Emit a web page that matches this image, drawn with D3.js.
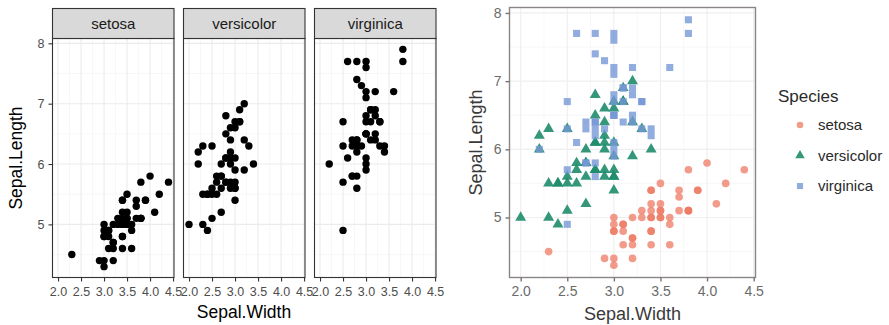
<!DOCTYPE html>
<html>
<head>
<meta charset="utf-8">
<script src="https://cdn.jsdelivr.net/npm/d3@7"></script>
<style>
  body { margin: 0; background: #fff; }
  text { font-family: "Liberation Sans", Arial, sans-serif; }
</style>
</head>
<body>
<svg id="chart" width="889" height="325"></svg>
<script>
// iris: Sepal.Width / Sepal.Length by species
const species = ['setosa', 'versicolor', 'virginica'];
const sepalWidth = [
  3.5,3.0,3.2,3.1,3.6,3.9,3.4,3.4,2.9,3.1,3.7,3.4,3.0,3.0,4.0,4.4,3.9,3.5,3.8,3.8,3.4,3.7,3.6,3.3,3.4,3.0,3.4,3.5,3.4,3.2,3.1,3.4,4.1,4.2,3.1,3.2,3.5,3.6,3.0,3.4,3.5,2.3,3.2,3.5,3.8,3.0,3.8,3.2,3.7,3.3,
  3.2,3.2,3.1,2.3,2.8,2.8,3.3,2.4,2.9,2.7,2.0,3.0,2.2,2.9,2.9,3.1,3.0,2.7,2.2,2.5,3.2,2.8,2.5,2.8,2.9,3.0,2.8,3.0,2.9,2.6,2.4,2.4,2.7,2.7,3.0,3.4,3.1,2.3,3.0,2.5,2.6,3.0,2.6,2.3,2.7,3.0,2.9,2.9,2.5,2.8,
  3.3,2.7,3.0,2.9,3.0,3.0,2.5,2.9,2.5,3.6,3.2,2.7,3.0,2.5,2.8,3.2,3.0,3.8,2.6,2.2,3.2,2.8,2.8,2.7,3.3,3.2,2.8,3.0,2.8,3.0,2.8,3.8,2.8,2.8,2.6,3.0,3.4,3.1,3.0,3.1,3.1,3.1,2.7,3.2,3.3,3.0,2.5,3.0,3.4,3.0
];
const sepalLength = [
  5.1,4.9,4.7,4.6,5.0,5.4,4.6,5.0,4.4,4.9,5.4,4.8,4.8,4.3,5.8,5.7,5.4,5.1,5.7,5.1,5.4,5.1,4.6,5.1,4.8,5.0,5.0,5.2,5.2,4.7,4.8,5.4,5.2,5.5,4.9,5.0,5.5,4.9,4.4,5.1,5.0,4.5,4.4,5.0,5.1,4.8,5.1,4.6,5.3,5.0,
  7.0,6.4,6.9,5.5,6.5,5.7,6.3,4.9,6.6,5.2,5.0,5.9,6.0,6.1,5.6,6.7,5.6,5.8,6.2,5.6,5.9,6.1,6.3,6.1,6.4,6.6,6.8,6.7,6.0,5.7,5.5,5.5,5.8,6.0,5.4,6.0,6.7,6.3,5.6,5.5,5.5,6.1,5.8,5.0,5.6,5.7,5.7,6.2,5.1,5.7,
  6.3,5.8,7.1,6.3,6.5,7.6,4.9,7.3,6.7,7.2,6.5,6.4,6.8,5.7,5.8,6.4,6.5,7.7,7.7,6.0,6.9,5.6,7.7,6.3,6.7,7.2,6.2,6.1,6.4,7.2,7.4,7.9,6.4,6.3,6.1,7.7,6.3,6.4,6.0,6.9,6.7,6.9,5.8,6.8,6.7,6.7,6.3,6.5,6.2,5.9
];
const xTicks = [2.0, 2.5, 3.0, 3.5, 4.0, 4.5];
const yTicks = [5, 6, 7, 8];
const speciesColors = ['#EE7A63', '#1E8C6C', '#7597D6'];

const rows = sepalWidth.map((w, i) => ({ w: w, l: sepalLength[i], sp: species[Math.floor(i / 50)] }));

const svg = d3.select('#chart');
const xDomain = [1.88, 4.52];
const yDomain = [4.12, 8.08];
const xMinor = [2.25, 2.75, 3.25, 3.75, 4.25];
const yMinor = [4.5, 5.5, 6.5, 7.5];
const fontCss = '"Liberation Sans", Arial, sans-serif';

// ---------- left: faceted plot ----------
const panelTop = 38.5, panelBottom = 277.5;
const panelLefts = [52.5, 183.5, 314.5];
const panelW = 121.5;
const y1 = d3.scaleLinear().domain(yDomain).range([panelBottom, panelTop]);

species.forEach((sp, k) => {
  const x0 = panelLefts[k];
  const x = d3.scaleLinear().domain(xDomain).range([x0, x0 + panelW]);
  const g = svg.append('g');

  // grid
  g.selectAll('.xmin').data(xMinor).join('line')
    .attr('x1', d => x(d)).attr('x2', d => x(d))
    .attr('y1', panelTop).attr('y2', panelBottom)
    .attr('stroke', '#F2F2F2').attr('stroke-width', 0.6);
  g.selectAll('.ymin').data(yMinor).join('line')
    .attr('y1', d => y1(d)).attr('y2', d => y1(d))
    .attr('x1', x0).attr('x2', x0 + panelW)
    .attr('stroke', '#F2F2F2').attr('stroke-width', 0.6);
  g.selectAll('.xmaj').data(xTicks).join('line')
    .attr('x1', d => x(d)).attr('x2', d => x(d))
    .attr('y1', panelTop).attr('y2', panelBottom)
    .attr('stroke', '#EBEBEB').attr('stroke-width', 1.1);
  g.selectAll('.ymaj').data(yTicks).join('line')
    .attr('y1', d => y1(d)).attr('y2', d => y1(d))
    .attr('x1', x0).attr('x2', x0 + panelW)
    .attr('stroke', '#EBEBEB').attr('stroke-width', 1.1);

  // points
  g.selectAll('circle').data(rows.filter(r => r.sp === sp)).join('circle')
    .attr('cx', d => x(d.w)).attr('cy', d => y1(d.l))
    .attr('r', 3.7).attr('fill', '#000');

  // border
  g.append('rect').attr('x', x0).attr('y', panelTop)
    .attr('width', panelW).attr('height', panelBottom - panelTop)
    .attr('fill', 'none').attr('stroke', '#333').attr('stroke-width', 1.1);

  // strip
  g.append('rect').attr('x', x0).attr('y', 8.5)
    .attr('width', panelW).attr('height', panelTop - 8.5)
    .attr('fill', '#D9D9D9').attr('stroke', '#333').attr('stroke-width', 1.1);
  g.append('text').attr('x', x0 + panelW / 2).attr('y', 29)
    .attr('text-anchor', 'middle').attr('font-size', 15).attr('fill', '#1A1A1A')
    .text(sp);

  // x axis
  const ax = g.append('g').attr('transform', `translate(0,${panelBottom})`)
    .call(d3.axisBottom(x).tickValues(xTicks).tickFormat(d3.format('.1f')).tickSize(4).tickSizeOuter(0));
  ax.select('.domain').remove();
  ax.selectAll('line').attr('stroke', '#333').attr('stroke-width', 1.1);
  ax.selectAll('text').attr('fill', '#4D4D4D').attr('font-size', 12.5).attr('dy', '0.9em')
    .style('font-family', fontCss);
});

// left y axis
const ay1 = svg.append('g').attr('transform', `translate(${panelLefts[0]},0)`)
  .call(d3.axisLeft(y1).tickValues(yTicks).tickFormat(d3.format('d')).tickSize(4).tickPadding(4));
ay1.select('.domain').remove();
ay1.selectAll('line').attr('stroke', '#333').attr('stroke-width', 1.1);
ay1.selectAll('text').attr('fill', '#4D4D4D').attr('font-size', 12.5)
  .style('font-family', fontCss);

svg.append('text').attr('x', 244).attr('y', 318)
  .attr('text-anchor', 'middle').attr('font-size', 17.5).attr('fill', '#000').text('Sepal.Width');
svg.append('text').attr('transform', `translate(22,${(panelTop + panelBottom) / 2}) rotate(-90)`)
  .attr('text-anchor', 'middle').attr('font-size', 17.5).attr('fill', '#000').text('Sepal.Length');

// ---------- right: combined plot ----------
const rL = 509.5, rR = 755.5, rT = 7.5, rB = 277.5;
const x2 = d3.scaleLinear().domain(xDomain).range([rL, rR]);
const y2 = d3.scaleLinear().domain(yDomain).range([rB, rT]);
const gr = svg.append('g');

gr.selectAll('.xmin').data(xMinor).join('line')
  .attr('x1', d => x2(d)).attr('x2', d => x2(d)).attr('y1', rT).attr('y2', rB)
  .attr('stroke', '#F5F5F5').attr('stroke-width', 0.8);
gr.selectAll('.ymin').data(yMinor).join('line')
  .attr('y1', d => y2(d)).attr('y2', d => y2(d)).attr('x1', rL).attr('x2', rR)
  .attr('stroke', '#F5F5F5').attr('stroke-width', 0.8);
gr.selectAll('.xmaj').data(xTicks).join('line')
  .attr('x1', d => x2(d)).attr('x2', d => x2(d)).attr('y1', rT).attr('y2', rB)
  .attr('stroke', '#EFEFEF').attr('stroke-width', 1.2);
gr.selectAll('.ymaj').data(yTicks).join('line')
  .attr('y1', d => y2(d)).attr('y2', d => y2(d)).attr('x1', rL).attr('x2', rR)
  .attr('stroke', '#EFEFEF').attr('stroke-width', 1.2);

const sym = d3.scaleOrdinal().domain(species)
  .range([d3.symbolCircle, d3.symbolTriangle, d3.symbolSquare]);
const symSize = d3.scaleOrdinal().domain(species).range([46, 52, 50]);
const col = d3.scaleOrdinal().domain(species).range(speciesColors);
const op = d3.scaleOrdinal().domain(species).range([0.75, 0.9, 0.8]);

gr.selectAll('path.pt').data(rows).join('path')
  .attr('class', 'pt')
  .attr('transform', d => `translate(${x2(d.w)},${y2(d.l)})`)
  .attr('d', d => d3.symbol().type(sym(d.sp)).size(symSize(d.sp))())
  .attr('fill', d => col(d.sp)).attr('fill-opacity', d => op(d.sp));

gr.append('rect').attr('x', rL).attr('y', rT).attr('width', rR - rL).attr('height', rB - rT)
  .attr('fill', 'none').attr('stroke', '#8C8585').attr('stroke-width', 1.4);

const ax2 = gr.append('g').attr('transform', `translate(0,${rB})`)
  .call(d3.axisBottom(x2).tickValues(xTicks).tickFormat(d3.format('.1f')).tickSize(4).tickSizeOuter(0));
ax2.select('.domain').remove();
ax2.selectAll('line').attr('stroke', '#7A7373').attr('stroke-width', 1.4);
ax2.selectAll('text').attr('fill', '#6B6B6B').attr('font-size', 14).attr('dy', '0.85em')
  .style('font-family', fontCss);

const ay2 = gr.append('g').attr('transform', `translate(${rL},0)`)
  .call(d3.axisLeft(y2).tickValues(yTicks).tickFormat(d3.format('d')).tickSize(4).tickPadding(4));
ay2.select('.domain').remove();
ay2.selectAll('line').attr('stroke', '#7A7373').attr('stroke-width', 1.4);
ay2.selectAll('text').attr('fill', '#6B6B6B').attr('font-size', 14)
  .style('font-family', fontCss);

svg.append('text').attr('x', x2(3.2)).attr('y', 320)
  .attr('text-anchor', 'middle').attr('font-size', 18).attr('fill', '#3A3A3A').text('Sepal.Width');
svg.append('text').attr('transform', `translate(482,${(rT + rB) / 2}) rotate(-90)`)
  .attr('text-anchor', 'middle').attr('font-size', 18).attr('fill', '#3A3A3A').text('Sepal.Length');

// legend
const lg = svg.append('g').attr('transform', 'translate(778,0)');
lg.append('text').attr('x', 0).attr('y', 102).attr('font-size', 17).attr('fill', '#2A2A2A').text('Species');
species.forEach((sp, i) => {
  const yy = 125 + i * 30.5;
  lg.append('path').attr('transform', `translate(22,${yy})`)
    .attr('d', d3.symbol().type(sym(sp)).size(symSize(sp) * 0.75)())
    .attr('fill', col(sp)).attr('fill-opacity', op(sp));
  lg.append('text').attr('x', 40).attr('y', yy + 5).attr('font-size', 15).attr('fill', '#2A2A2A').text(sp);
});
</script>
</body>
</html>
